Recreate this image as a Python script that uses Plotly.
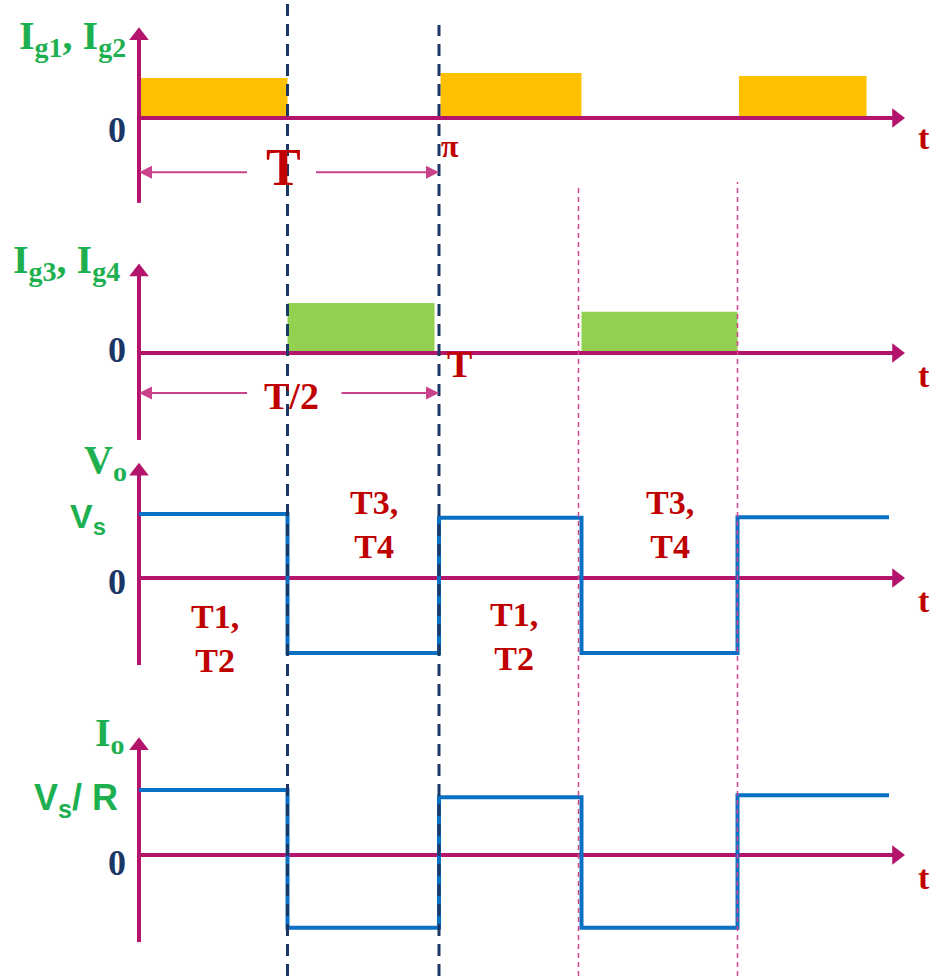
import plotly.graph_objects as go

W, H = 934, 976

# time in units of T/2
t_edges = [0.0, 0.99, 2.0, 2.95, 3.99, 5.0]
navy_marks = [0.99, 2.0]
pink_marks = [2.93, 3.99]
t_axis_end = 5.11

# gate pulses (start, end, height)
ig12_start = [0.0, 2.01, 4.0]
ig12_end = [0.99, 2.95, 4.85]
ig12_level = [0.95, 1.07, 1.0]

ig34_start = [0.99, 2.95]
ig34_end = [1.97, 3.99]
ig34_level = [1.19, 0.98]

# output voltage / current, value after each edge
vo_level = [1.0, -1.17, 0.94, -1.17, 0.95, 0.95]
io_level = [1.0, -1.12, 0.89, -1.12, 0.92, 0.92]

# vertical axis extent of each strip (in strip units)
v_axis = [(-2.02, 2.17), (-2.07, 2.14), (-1.36, 1.81), (-1.34, 1.82)]

# strip geometry in pixels: zero line, px per unit, top, bottom
panels = [
    dict(zero=118, unit=42, top=0, bot=232),
    dict(zero=353, unit=42, top=232, bot=452),
    dict(zero=578, unit=64, top=452, bot=702),
    dict(zero=855, unit=65, top=702, bot=976),
]

MAG = "#B3146C"
BLUE = "#0A70C4"
NAVY = "#1B3766"
RED = "#C00000"
GREEN = "#1EB050"
SERIF = "Liberation Serif"
SANS = "Liberation Sans"

x0_px, px_per_t = 139, 150

fig = go.Figure()
ynames = ["y", "y2", "y3", "y4"]

# axes of each strip
for i, p in enumerate(panels):
    yn = ynames[i]
    lo, hi = v_axis[i]
    tip = hi - 9 / p["unit"]
    fig.add_trace(go.Scatter(x=[0, 0], y=[lo, tip], mode="lines", line=dict(color=MAG, width=4),
                             yaxis=yn, hoverinfo="skip", showlegend=False))
    fig.add_trace(go.Scatter(x=[0], y=[tip], mode="markers", yaxis=yn, hoverinfo="skip", showlegend=False,
                             marker=dict(symbol="triangle-up", size=17, color=MAG)))
    tend = t_axis_end - 9 / px_per_t
    fig.add_trace(go.Scatter(x=[0, tend], y=[0, 0], mode="lines", line=dict(color=MAG, width=4),
                             yaxis=yn, hoverinfo="skip", showlegend=False))
    fig.add_trace(go.Scatter(x=[tend], y=[0], mode="markers", yaxis=yn, hoverinfo="skip", showlegend=False,
                             marker=dict(symbol="triangle-right", size=17, color=MAG)))

# gate pulses
def pulses(starts, ends, levels, color, yn):
    centers = [(a + b) / 2 for a, b in zip(starts, ends)]
    widths = [b - a for a, b in zip(starts, ends)]
    fig.add_trace(go.Bar(x=centers, y=levels, width=widths, yaxis=yn, marker_color=color,
                         marker_line_width=0, opacity=1, hoverinfo="skip", showlegend=False))

pulses(ig12_start, ig12_end, ig12_level, "#FFC000", "y")
pulses(ig34_start, ig34_end, ig34_level, "#92D050", "y2")

# square waves
fig.add_trace(go.Scatter(x=t_edges, y=vo_level, mode="lines", line=dict(color=BLUE, width=4, shape="hv"),
                         yaxis="y3", hoverinfo="skip", showlegend=False))
fig.add_trace(go.Scatter(x=t_edges, y=io_level, mode="lines", line=dict(color=BLUE, width=4, shape="hv"),
                         yaxis="y4", hoverinfo="skip", showlegend=False))

# dashed guide lines through all strips
fig.add_shape(type="line", xref="x", yref="paper", x0=navy_marks[0], x1=navy_marks[0], y0=0, y1=1,
              line=dict(color=NAVY, width=3, dash="12px,8px"))
fig.add_shape(type="line", xref="x", yref="paper", x0=navy_marks[1], x1=navy_marks[1], y0=0, y1=1 - 25 / H,
              line=dict(color=NAVY, width=3, dash="12px,8px"))
for xm, top in zip(pink_marks, [185, 182]):
    fig.add_shape(type="line", xref="x", yref="paper", x0=xm, x1=xm, y0=0, y1=1 - top / H,
                  line=dict(color="#D2448F", width=1.5, dash="5px,4px"))

# period arrows
def span_arrow(yn, yv, gap_l, gap_r, t_end):
    for head, tail in [(0.0, gap_l), (t_end, gap_r)]:
        fig.add_annotation(x=head, y=yv, ax=tail, ay=yv, xref="x", yref=yn, axref="x", ayref=yn,
                           text="", showarrow=True, arrowhead=2, arrowsize=1.3, arrowwidth=2,
                           arrowcolor="#C8438A", standoff=0, startstandoff=0)

span_arrow("y", -1.29, 0.73, 1.17, 2.0)
span_arrow("y2", -0.95, 0.73, 1.34, 2.0)

def lab(text, px, py, size, color, family=SERIF):
    fig.add_annotation(x=px / W, y=1 - py / H, xref="paper", yref="paper", text=text, showarrow=False,
                       font=dict(size=size, color=color, family=family), xanchor="center", yanchor="middle")

lab("<b>I<sub>g1</sub>, I<sub>g2</sub></b>", 72, 38, 40, GREEN)
lab("<b>I<sub>g3</sub>, I<sub>g4</sub></b>", 66, 262, 40, GREEN)
lab("<b>V<sub>o</sub></b>", 105, 462, 40, GREEN)
lab("<b>V<sub>s</sub></b>", 88, 518, 34, GREEN, SANS)
lab("<b>I<sub>o</sub></b>", 110, 735, 40, GREEN)
lab("<b>V<sub>s</sub>/ R</b>", 76, 800, 36, GREEN, SANS)
for py in [130, 350, 582, 863]:
    lab("<b>0</b>", 117, py, 36, NAVY)
for py in [137, 375, 600, 877]:
    lab("<b>t</b>", 924, py, 34, RED)
lab("<b>T</b>", 283, 168, 52, RED)
lab("<b>π</b>", 450, 146, 32, RED)
lab("<b>T</b>", 459, 364, 38, RED)
lab("<b>T/2</b>", 291, 396, 38, RED)
lab("<b>T3,<br>T4</b>", 374, 524, 34, RED)
lab("<b>T3,<br>T4</b>", 670, 524, 34, RED)
lab("<b>T1,<br>T2</b>", 215, 638, 34, RED)
lab("<b>T1,<br>T2</b>", 514, 636, 34, RED)

layout_axes = {}
for i, p in enumerate(panels):
    key = "yaxis" if i == 0 else "yaxis%d" % (i + 1)
    layout_axes[key] = dict(domain=[1 - p["bot"] / H, 1 - p["top"] / H],
                            range=[-(p["bot"] - p["zero"]) / p["unit"], (p["zero"] - p["top"]) / p["unit"]],
                            visible=False, fixedrange=True, anchor="x")

fig.update_layout(
    width=W, height=H,
    margin=dict(l=0, r=0, t=0, b=0),
    paper_bgcolor="white", plot_bgcolor="white",
    barmode="overlay",
    xaxis=dict(range=[-x0_px / px_per_t, (W - x0_px) / px_per_t], visible=False, fixedrange=True),
    **layout_axes,
)

# page body has a default margin; drop it so the figure sits at the window corner
fig.write_html("out.html", config={"displayModeBar": False},
               post_script="document.body.style.margin='0';")
